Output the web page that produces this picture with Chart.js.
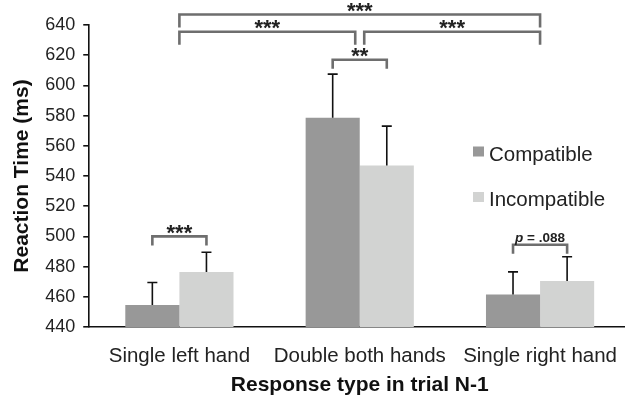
<!DOCTYPE html>
<html>
<head>
<meta charset="utf-8">
<script src="https://cdn.jsdelivr.net/npm/chart.js@4.4.1/dist/chart.umd.min.js"></script>
<style>
    body { margin: 0; overflow: hidden; background: #fff; }
    #wrap { width: 634px; height: 400px; }
</style>
</head>
<body>
<div id="wrap"><canvas id="myChart"></canvas></div>
<script>
let categories = ['Single left hand', 'Double both hands', 'Single right hand']
let series_names = ['Compatible', 'Incompatible']
let compatible = [454.5, 578.5, 461.5]
let incompatible = [476.5, 547, 470.5]
let compatible_err = [15, 29, 15]
let incompatible_err = [13, 26, 16]
let y_ticks = [440, 460, 480, 500, 520, 540, 560, 580, 600, 620, 640]

// significance brackets: ends are [dataset, category] or [null, category] for the group centre
let brackets = [
    { from: [null, 0], to: [null, 2], level: 647, label: '***' },
    { from: [null, 0], to: [null, 1], level: 635.5, label: '***' },
    { from: [null, 1], to: [null, 2], level: 635.5, label: '***' },
    { from: [0, 1], to: [1, 1], level: 617, label: '**' },
    { from: [0, 0], to: [1, 0], level: 500, label: '***' },
    { from: [0, 2], to: [1, 2], level: 494.5, label: 'p = .088' }
]

let colors = ['#989898', '#d2d3d2']
let errors = [compatible_err, incompatible_err]
let font_name = '"Liberation Sans", Arial, sans-serif'

let errorBars = {
    id: 'errorBars',
    afterDatasetsDraw(chart) {
        let ctx = chart.ctx
        let y = chart.scales.y
        ctx.save()
        ctx.strokeStyle = '#111'
        ctx.lineWidth = 1.6
        chart.data.datasets.forEach((ds, i) => {
            let meta = chart.getDatasetMeta(i)
            meta.data.forEach((bar, j) => {
                let top = y.getPixelForValue(ds.data[j] + errors[i][j])
                ctx.beginPath()
                ctx.moveTo(bar.x, bar.y)
                ctx.lineTo(bar.x, top)
                ctx.moveTo(bar.x - 5, top)
                ctx.lineTo(bar.x + 5, top)
                ctx.stroke()
            })
        })
        ctx.restore()
    }
}

function endX(chart, end, other) {
    if (end[0] === null) {
        let x = chart.scales.x.getPixelForValue(end[1])
        // brackets meeting at the middle group are pulled apart a little
        if (end[1] === 1) x += (other[1] < 1) ? -4.5 : 4.5
        return x
    }
    return chart.getDatasetMeta(end[0]).data[end[1]].x
}

let sigBrackets = {
    id: 'sigBrackets',
    afterDraw(chart) {
        let ctx = chart.ctx
        let y = chart.scales.y
        ctx.save()
        for (let b of brackets) {
            let x1 = endX(chart, b.from, b.to)
            let x2 = endX(chart, b.to, b.from)
            let yy = y.getPixelForValue(b.level)
            let drop = b.from[0] === null ? 13 : 9
            ctx.strokeStyle = '#6e6e6e'
            ctx.lineWidth = 2.6
            ctx.beginPath()
            ctx.moveTo(x1, yy + drop)
            ctx.lineTo(x1, yy)
            ctx.lineTo(x2, yy)
            ctx.lineTo(x2, yy + drop)
            ctx.stroke()
            let cx = (x1 + x2) / 2
            ctx.fillStyle = '#222'
            ctx.textBaseline = 'alphabetic'
            if (b.label.startsWith('p')) {
                let rest = b.label.slice(1)
                ctx.font = 'italic bold 13.5px ' + font_name
                let w1 = ctx.measureText('p').width
                ctx.font = 'bold 13.5px ' + font_name
                let w2 = ctx.measureText(rest).width
                let sx = cx - (w1 + w2) / 2
                ctx.textAlign = 'left'
                ctx.font = 'italic bold 13.5px ' + font_name
                ctx.fillText('p', sx, yy - 3)
                ctx.font = 'bold 13.5px ' + font_name
                ctx.fillText(rest, sx + w1, yy - 3)
            } else {
                ctx.textAlign = 'center'
                ctx.font = 'bold 22px ' + font_name
                ctx.fillText(b.label, cx, yy + 3.5)
            }
        }
        ctx.restore()
    }
}

let insideLegend = {
    id: 'insideLegend',
    afterDraw(chart) {
        let ctx = chart.ctx
        ctx.save()
        ctx.font = '20.5px ' + font_name
        ctx.textBaseline = 'alphabetic'
        ctx.textAlign = 'left'
        chart.data.datasets.forEach((ds, i) => {
            let base = 160.5 + i * 45.5
            ctx.fillStyle = ds.backgroundColor
            ctx.fillRect(473, base - 14, 11, 10)
            ctx.fillStyle = '#222'
            ctx.fillText(ds.label, 489, base)
        })
        ctx.restore()
    }
}

let ctx = document.getElementById('myChart').getContext('2d')

let myChart = new Chart(ctx, {
    type: 'bar',
    data: {
        labels: categories,
        datasets: [
            { label: series_names[0], data: compatible, backgroundColor: colors[0] },
            { label: series_names[1], data: incompatible, backgroundColor: colors[1] }
        ]
    },
    options: {
        responsive: true,
        maintainAspectRatio: false,
        animation: false,
        layout: { padding: { top: 25, left: 10, right: 0, bottom: 0 } },
        datasets: { bar: { categoryPercentage: 0.6, barPercentage: 1.0 } },
        plugins: {
            legend: { display: false },
            tooltip: { enabled: false }
        },
        scales: {
            x: {
                grid: { display: false, drawTicks: false },
                border: { display: true, color: '#111', width: 1.6 },
                ticks: { color: '#222', padding: 17, font: { family: font_name, size: 20.5 } },
                title: {
                    display: true,
                    text: 'Response type in trial N-1',
                    color: '#111',
                    font: { family: font_name, size: 21, weight: 'bold' },
                    padding: { top: -12.8, bottom: 2 }
                }
            },
            y: {
                min: 440,
                max: 640,
                afterBuildTicks(axis) {
                    axis.ticks = y_ticks.map(v => ({ value: v }))
                },
                grid: { display: true, drawOnChartArea: false, drawTicks: true, tickLength: 6, color: '#111', lineWidth: 1.6 },
                border: { display: true, color: '#111', width: 1.6 },
                ticks: { color: '#222', padding: 8, font: { family: font_name, size: 18 } },
                title: {
                    display: true,
                    text: 'Reaction Time (ms)',
                    color: '#111',
                    font: { family: font_name, size: 21, weight: 'bold' },
                    padding: { top: 0, bottom: 2 }
                }
            }
        }
    },
    plugins: [errorBars, sigBrackets, insideLegend]
})
</script>
</body>
</html>
